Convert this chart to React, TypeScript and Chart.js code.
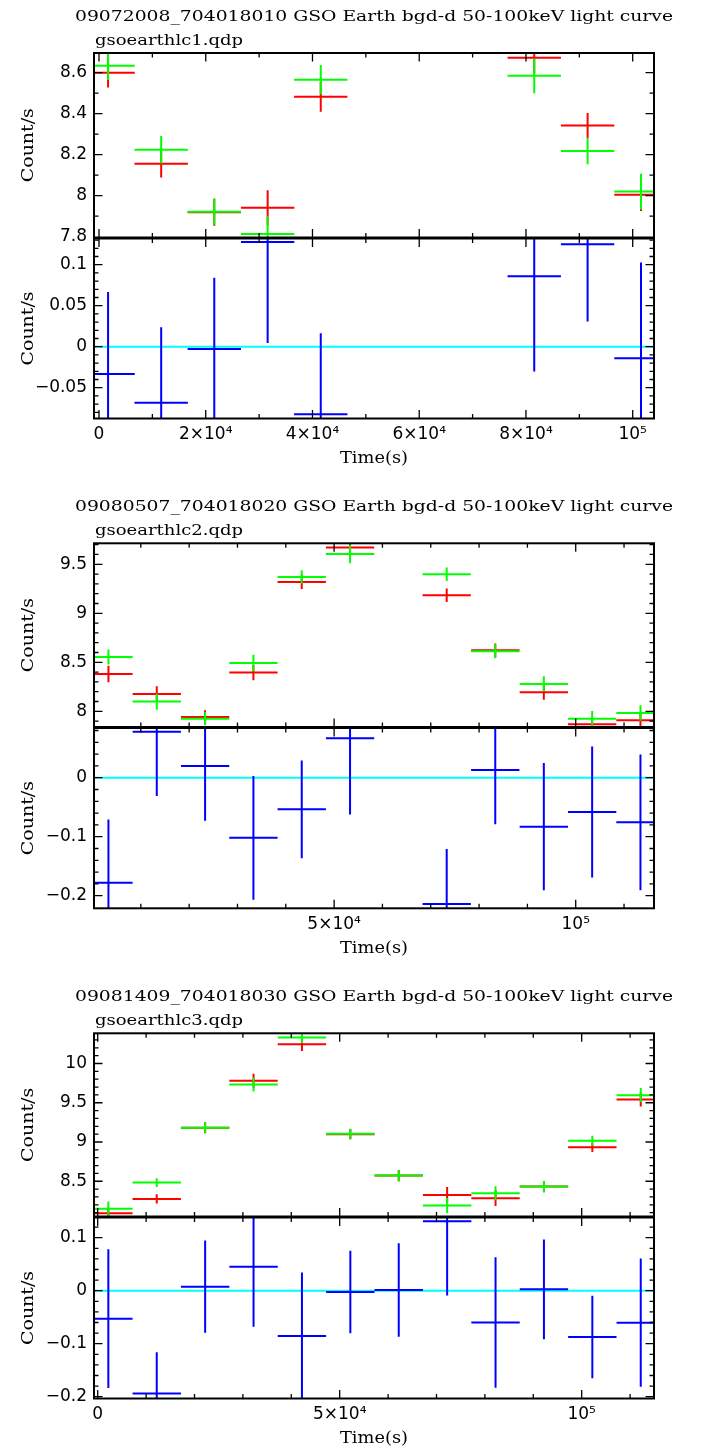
import React, { useEffect, useRef } from "react";
import { Chart, registerables } from "chart.js";

Chart.register(...registerables);

// ---------------- Panel 1 ----------------
const P1_TITLE = "09072008_704018010 GSO Earth bgd-d 50-100keV light curve";
const P1_FILE = "gsoearthlc1.qdp";
const P1_TIME = [1700, 11650, 21600, 31600, 41550, 81550, 91550, 101550];
const P1_RED = [8.6, 8.156, 7.919, 7.941, 8.483, 8.673, 8.343, 8.005];
const P1_RED_ERR = [0.072, 0.067, 0.066, 0.085, 0.073, 0.075, 0.061, 0.08];
const P1_GREEN = [8.634, 8.224, 7.922, 7.813, 8.566, 8.585, 8.218, 8.02];
const P1_GREEN_ERR = [0.07, 0.067, 0.064, 0.087, 0.071, 0.085, 0.065, 0.087];
const P1_RESID = [-0.0333, -0.0683, -0.0028, 0.1276, -0.0825, 0.0858, 0.1248, -0.0142];
const P1_RESID_ERR = [0.1, 0.092, 0.087, 0.123, 0.099, 0.116, 0.094, 0.117];
const P1_X_TICKS = [0, 20000, 40000, 60000, 80000, 100000];
const P1_X_LABELS = ["0", "2×10⁴", "4×10⁴", "6×10⁴", "8×10⁴", "10⁵"];
const P1_UP_TICKS = [7.8, 8, 8.2, 8.4, 8.6];
const P1_UP_LABELS = ["7.8", "8", "8.2", "8.4", "8.6"];
const P1_LO_TICKS = [-0.05, 0, 0.05, 0.1];
const P1_LO_LABELS = ["−0.05", "0", "0.05", "0.1"];

// ---------------- Panel 2 ----------------
const P2_TITLE = "09080507_704018020 GSO Earth bgd-d 50-100keV light curve";
const P2_FILE = "gsoearthlc2.qdp";
const P2_TIME = [3300, 13300, 23300, 33300, 43300, 53300, 73300, 83350, 93400, 103400, 113400];
const P2_RED = [8.381, 8.177, 7.942, 8.395, 9.32, 9.67, 9.184, 8.622, 8.194, 7.867, 7.908];
const P2_RED_ERR = [0.085, 0.078, 0.068, 0.077, 0.073, 0.085, 0.068, 0.071, 0.077, 0.07, 0.075];
const P2_GREEN = [8.554, 8.099, 7.925, 8.493, 9.371, 9.605, 9.398, 8.612, 8.279, 7.925, 7.983];
const P2_GREEN_ERR = [0.077, 0.082, 0.068, 0.085, 0.068, 0.094, 0.068, 0.071, 0.078, 0.077, 0.08];
const P2_RESID = [-0.178, 0.078, 0.0198, -0.102, -0.0537, 0.0667, -0.214, 0.013, -0.083, -0.058, -0.0757];
const P2_RESID_ERR = [0.107, 0.109, 0.093, 0.105, 0.083, 0.129, 0.093, 0.092, 0.108, 0.111, 0.115];
const P2_X_TICKS = [50000, 100000];
const P2_X_LABELS = ["5×10⁴", "10⁵"];
const P2_UP_TICKS = [8, 8.5, 9, 9.5];
const P2_UP_LABELS = ["8", "8.5", "9", "9.5"];
const P2_LO_TICKS = [-0.2, -0.1, 0];
const P2_LO_LABELS = ["−0.2", "−0.1", "0"];

// ---------------- Panel 3 ----------------
const P3_TITLE = "09081409_704018030 GSO Earth bgd-d 50-100keV light curve";
const P3_FILE = "gsoearthlc3.qdp";
const P3_TIME = [2200, 12200, 22200, 32200, 42200, 52200, 62200, 72200, 82200, 92200, 102200, 112200];
const P3_RED = [8.093, 8.275, 9.182, 9.78, 10.246, 9.1, 8.572, 8.326, 8.284, 8.432, 8.932, 9.542];
const P3_RED_ERR = [0.07, 0.06, 0.07, 0.09, 0.085, 0.064, 0.072, 0.1, 0.1, 0.072, 0.06, 0.09];
const P3_GREEN = [8.148, 8.483, 9.182, 9.733, 10.33, 9.104, 8.572, 8.19, 8.347, 8.432, 9.017, 9.597];
const P3_GREEN_ERR = [0.095, 0.055, 0.07, 0.09, 0.07, 0.064, 0.072, 0.095, 0.09, 0.072, 0.064, 0.09];
const P3_RESID = [-0.0528, -0.194, 0.0075, 0.045, -0.0855, -0.0025, 0.0013, 0.131, -0.06, 0.0025, -0.0874, -0.0604];
const P3_RESID_ERR = [0.131, 0.078, 0.087, 0.113, 0.12, 0.078, 0.088, 0.14, 0.123, 0.094, 0.078, 0.121];
const P3_X_TICKS = [0, 50000, 100000];
const P3_X_LABELS = ["0", "5×10⁴", "10⁵"];
const P3_UP_TICKS = [8.5, 9, 9.5, 10];
const P3_UP_LABELS = ["8.5", "9", "9.5", "10"];
const P3_LO_TICKS = [-0.2, -0.1, 0, 0.1];
const P3_LO_LABELS = ["−0.2", "−0.1", "0", "0.1"];

const HALF_BIN = 5000;

// axis limits
const X_RANGE = [
  [-937, 103990],
  [310, 116200],
  [-764, 114940],
];
const UP_RANGE = [
  [7.7961, 8.6961],
  [7.84, 9.714],
  [8.0506, 10.385],
];
const LO_RANGE = [
  [-0.08756, 0.13195],
  [-0.2214, 0.0842],
  [-0.2034, 0.1381],
];
const X_MINOR = [10000, 10000, 10000];
const UP_MINOR = [0.1, 0.1, 0.1];
const LO_MINOR = [0.01, 0.02, 0.02];

// layout (page pixels)
const W = 706;
const PLOT_LEFT = 94;
const PLOT_RIGHT = 654;
const PANEL_OFF = [0, 490, 980];
const FRAME_TOP = [53, 543.3, 1033.3];
const FRAME_MID = [238, 727.5, 1217];
const FRAME_BOT = [418.5, 908.3, 1398.5];
const UPPER_H = 250;
const LOWER_SHIFT = 228;
const LOWER_H = 241;
const MAJOR_LEN = 8.5;
const MINOR_LEN = 4.5;

const RED = "#ff0000";
const GREEN = "#00ff00";
const BLUE = "#0000ff";
const CYAN = "#00ffff";

type Pt = { x: number; y: number | null };
type Series = { points: Pt[]; color: string };
type Spec = {
  key: string;
  top: number;
  height: number;
  areaTop: number;
  areaBottom: number;
  showX: boolean;
  xMin: number;
  xMax: number;
  xTicks: number[];
  xLabels: string[];
  xMinor: number;
  yMin: number;
  yMax: number;
  yTicks: number[];
  yLabels: string[];
  yMinor: number;
  series: Series[];
  title?: string;
  file?: string;
};

function cross(times: number[], vals: number[], errs: number[], half: number): Pt[] {
  const pts: Pt[] = [];
  times.forEach((t, i) => {
    const v = vals[i];
    const e = errs[i];
    pts.push(
      { x: t - half, y: v },
      { x: t + half, y: v },
      { x: t + half, y: null },
      { x: t, y: v - e },
      { x: t, y: v + e },
      { x: t, y: null }
    );
  });
  return pts;
}

const PANELS = [
  {
    title: P1_TITLE, file: P1_FILE, time: P1_TIME,
    red: P1_RED, redErr: P1_RED_ERR, green: P1_GREEN, greenErr: P1_GREEN_ERR,
    resid: P1_RESID, residErr: P1_RESID_ERR,
    xTicks: P1_X_TICKS, xLabels: P1_X_LABELS,
    upTicks: P1_UP_TICKS, upLabels: P1_UP_LABELS, loTicks: P1_LO_TICKS, loLabels: P1_LO_LABELS,
  },
  {
    title: P2_TITLE, file: P2_FILE, time: P2_TIME,
    red: P2_RED, redErr: P2_RED_ERR, green: P2_GREEN, greenErr: P2_GREEN_ERR,
    resid: P2_RESID, residErr: P2_RESID_ERR,
    xTicks: P2_X_TICKS, xLabels: P2_X_LABELS,
    upTicks: P2_UP_TICKS, upLabels: P2_UP_LABELS, loTicks: P2_LO_TICKS, loLabels: P2_LO_LABELS,
  },
  {
    title: P3_TITLE, file: P3_FILE, time: P3_TIME,
    red: P3_RED, redErr: P3_RED_ERR, green: P3_GREEN, greenErr: P3_GREEN_ERR,
    resid: P3_RESID, residErr: P3_RESID_ERR,
    xTicks: P3_X_TICKS, xLabels: P3_X_LABELS,
    upTicks: P3_UP_TICKS, upLabels: P3_UP_LABELS, loTicks: P3_LO_TICKS, loLabels: P3_LO_LABELS,
  },
];

const SPECS: Spec[] = [];
PANELS.forEach((p, i) => {
  const off = PANEL_OFF[i];
  const [xMin, xMax] = X_RANGE[i];
  SPECS.push({
    key: "up" + i,
    top: off,
    height: UPPER_H,
    areaTop: FRAME_TOP[i] - off,
    areaBottom: FRAME_MID[i] - 0.5 - off,
    showX: false,
    xMin, xMax,
    xTicks: p.xTicks, xLabels: p.xLabels, xMinor: X_MINOR[i],
    yMin: UP_RANGE[i][0], yMax: UP_RANGE[i][1],
    yTicks: p.upTicks, yLabels: p.upLabels, yMinor: UP_MINOR[i],
    series: [
      { points: cross(p.time, p.green, p.greenErr, HALF_BIN), color: GREEN },
      { points: cross(p.time, p.red, p.redErr, HALF_BIN), color: RED },
    ],
    title: p.title,
    file: p.file,
  });
  const lt = off + LOWER_SHIFT;
  SPECS.push({
    key: "lo" + i,
    top: lt,
    height: LOWER_H,
    areaTop: FRAME_MID[i] + 0.5 - lt,
    areaBottom: FRAME_BOT[i] - lt,
    showX: true,
    xMin, xMax,
    xTicks: p.xTicks, xLabels: p.xLabels, xMinor: X_MINOR[i],
    yMin: LO_RANGE[i][0], yMax: LO_RANGE[i][1],
    yTicks: p.loTicks, yLabels: p.loLabels, yMinor: LO_MINOR[i],
    series: [
      { points: cross(p.time, p.resid, p.residErr, HALF_BIN), color: BLUE },
      { points: [{ x: xMin, y: 0 }, { x: xMax, y: 0 }], color: CYAN },
    ],
  });
});

function fitText(
  ctx: CanvasRenderingContext2D,
  text: string,
  x: number,
  y: number,
  width: number,
  font: string,
  align: CanvasTextAlign,
  rotate: boolean
) {
  ctx.save();
  ctx.font = font;
  ctx.fillStyle = "#000";
  ctx.textBaseline = "alphabetic";
  ctx.textAlign = align;
  const w = ctx.measureText(text).width || 1;
  ctx.translate(x, y);
  if (rotate) ctx.rotate(-Math.PI / 2);
  ctx.scale(width / w, 1);
  ctx.fillText(text, 0, 0);
  ctx.restore();
}

function framePlugin(s: Spec) {
  return {
    id: "qdpFrame",
    afterDraw(chart: any) {
      const ctx = chart.ctx as CanvasRenderingContext2D;
      const a = chart.chartArea;
      const xs = chart.scales.x;
      const ys = chart.scales.y;
      ctx.save();
      ctx.strokeStyle = "#000";
      ctx.lineWidth = 1.3;
      ctx.beginPath();
      const xTick = (v: number, len: number) => {
        const p = xs.getPixelForValue(v);
        if (p < a.left + 1 || p > a.right - 1) return;
        ctx.moveTo(p, a.top);
        ctx.lineTo(p, a.top + len);
        ctx.moveTo(p, a.bottom);
        ctx.lineTo(p, a.bottom - len);
      };
      const yTick = (v: number, len: number) => {
        const p = ys.getPixelForValue(v);
        if (p < a.top + 1 || p > a.bottom - 1) return;
        ctx.moveTo(a.left, p);
        ctx.lineTo(a.left + len, p);
        ctx.moveTo(a.right, p);
        ctx.lineTo(a.right - len, p);
      };
      for (let k = Math.ceil(s.xMin / s.xMinor); k * s.xMinor <= s.xMax; k++) xTick(k * s.xMinor, MINOR_LEN);
      s.xTicks.forEach((v) => xTick(v, MAJOR_LEN));
      for (let k = Math.ceil(s.yMin / s.yMinor - 1e-9); k * s.yMinor <= s.yMax + 1e-9; k++) yTick(k * s.yMinor, MINOR_LEN);
      s.yTicks.forEach((v) => yTick(v, MAJOR_LEN));
      ctx.stroke();
      ctx.lineWidth = 2;
      ctx.strokeRect(a.left, a.top, a.right - a.left, a.bottom - a.top);
      ctx.restore();

      if (s.title) fitText(ctx, s.title, 75, 20.7, 598, '15px "DejaVu Serif"', "left", false);
      if (s.file) fitText(ctx, s.file, 95, 44.5, 148, '15px "DejaVu Serif"', "left", false);
      fitText(ctx, "Count/s", 32.5, (a.top + a.bottom) / 2, 74, '16px "DejaVu Serif"', "center", true);
      if (s.showX) fitText(ctx, "Time(s)", 374, 235.3, 68, '16px "DejaVu Serif"', "center", false);
    },
  };
}

const TICK_FONT = { family: '"DejaVu Sans", sans-serif', size: 17 };

function buildConfig(s: Spec): any {
  const datasets = s.series.map((ser) => ({
    data: ser.points,
    borderColor: ser.color,
    backgroundColor: ser.color,
    borderWidth: 2,
    pointRadius: 0,
    pointHoverRadius: 0,
    pointHitRadius: 0,
    tension: 0,
    fill: false,
    spanGaps: false,
    clip: 0,
  }));
  const xAxisHeight = s.showX ? s.height - s.areaBottom : 0;
  return {
    type: "line",
    data: { datasets },
    options: {
      animation: false,
      responsive: false,
      maintainAspectRatio: false,
      devicePixelRatio: 1,
      events: [],
      layout: {
        padding: {
          left: 0,
          right: W - PLOT_RIGHT,
          top: s.areaTop,
          bottom: s.showX ? 0 : s.height - s.areaBottom,
        },
      },
      plugins: {
        legend: { display: false },
        title: { display: false },
        tooltip: { enabled: false },
      },
      scales: {
        x: {
          type: "linear",
          min: s.xMin,
          max: s.xMax,
          display: s.showX,
          grid: { display: false, drawTicks: false },
          border: { display: false },
          afterBuildTicks: (sc: any) => {
            sc.ticks = s.xTicks.map((v) => ({ value: v }));
          },
          afterFit: (sc: any) => {
            sc.height = xAxisHeight;
            sc.paddingLeft = 0;
            sc.paddingRight = 0;
            sc.paddingTop = 0;
            sc.paddingBottom = 0;
          },
          ticks: {
            autoSkip: false,
            maxRotation: 0,
            minRotation: 0,
            padding: 6.3,
            color: "#000",
            font: TICK_FONT,
            callback: (_v: any, i: number) => s.xLabels[i],
          },
        },
        y: {
          type: "linear",
          min: s.yMin,
          max: s.yMax,
          grid: { display: false, drawTicks: false },
          border: { display: false },
          afterBuildTicks: (sc: any) => {
            sc.ticks = s.yTicks.map((v) => ({ value: v }));
          },
          afterFit: (sc: any) => {
            sc.width = PLOT_LEFT;
            sc.paddingLeft = 0;
            sc.paddingRight = 0;
            sc.paddingTop = 0;
            sc.paddingBottom = 0;
          },
          ticks: {
            autoSkip: false,
            padding: 7,
            color: "#000",
            font: TICK_FONT,
            callback: (_v: any, i: number) => s.yLabels[i],
          },
        },
      },
    },
    plugins: [framePlugin(s)],
  };
}

function SubplotCanvas({ spec }: { spec: Spec }) {
  const ref = useRef<HTMLCanvasElement>(null);
  useEffect(() => {
    if (!ref.current) return;
    const chart = new Chart(ref.current, buildConfig(spec));
    return () => chart.destroy();
  }, [spec]);
  return (
    <canvas
      ref={ref}
      width={W}
      height={spec.height}
      style={{ position: "absolute", left: 0, top: spec.top, width: W, height: spec.height }}
    />
  );
}

export default function App() {
  return (
    <div
      style={{
        position: "absolute",
        left: 0,
        top: 0,
        width: W,
        height: 1449,
        overflow: "hidden",
        background: "#fff",
      }}
    >
      {SPECS.map((s) => (
        <SubplotCanvas key={s.key} spec={s} />
      ))}
    </div>
  );
}
